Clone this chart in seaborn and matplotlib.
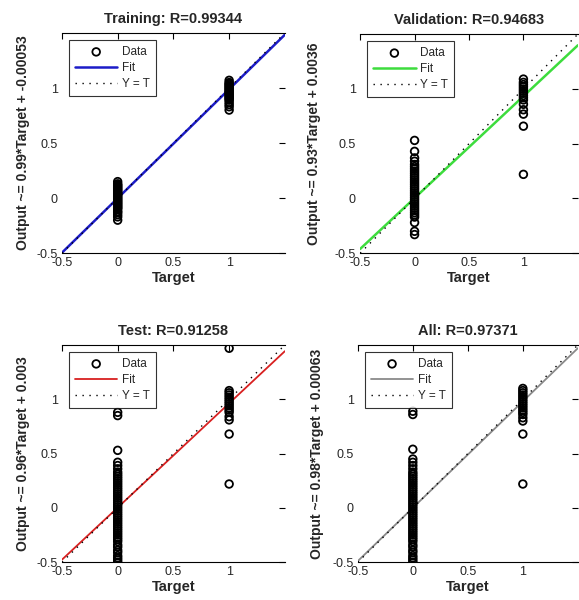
import numpy as np
import matplotlib
matplotlib.use("Agg")
import matplotlib.pyplot as plt
import seaborn as sns

# Regression plots for the trained network
panel_titles = ['Training: R=0.99344', 'Validation: R=0.94683',
                'Test: R=0.91258', 'All: R=0.97371']
fit_slopes = [0.99, 0.93, 0.96, 0.98]
fit_intercepts = [-0.00053, 0.0036, 0.003, 0.00053]
ylabel_texts = ['Output ~= 0.99*Target + -0.00053',
                'Output ~= 0.93*Target + 0.0036',
                'Output ~= 0.96*Target + 0.003',
                'Output ~= 0.98*Target + 0.00063']
fit_colors = ['#1c1cc8', '#3ddc3d', '#d82020', '#8a8a8a']
fit_widths = [1.8, 1.8, 1.3, 1.3]

# outputs for target 0 and target 1 in each data split
train_t0 = [-0.20, -0.17, -0.15, -0.13, -0.12, -0.10, -0.09, -0.08, -0.07, -0.06,
            -0.05, -0.04, -0.03, -0.02, -0.01, 0.00, 0.01, 0.02, 0.03, 0.04,
            0.05, 0.06, 0.07, 0.08, 0.09, 0.10, 0.11, 0.12, 0.13, 0.15]
train_t1 = [0.80, 0.83, 0.85, 0.87, 0.89, 0.90, 0.91, 0.92, 0.93, 0.94, 0.95,
            0.96, 0.97, 0.98, 0.99, 1.00, 1.01, 1.02, 1.03, 1.04, 1.05, 1.07]

val_t0 = [-0.33, -0.30, -0.22, -0.17, -0.15, -0.13, -0.11, -0.09, -0.07, -0.05,
          -0.03, -0.01, 0.01, 0.03, 0.05, 0.07, 0.09, 0.11, 0.13, 0.15, 0.17,
          0.19, 0.21, 0.23, 0.25, 0.27, 0.29, 0.31, 0.34, 0.37, 0.43, 0.53]
val_t1 = [0.22, 0.66, 0.77, 0.81, 0.86, 0.90, 0.92, 0.94, 0.96, 0.98, 1.00,
          1.02, 1.04, 1.06, 1.09]

test_t0 = [-0.50, -0.48, -0.46, -0.44, -0.41, -0.39, -0.36, -0.34, -0.31, -0.29,
           -0.27, -0.25, -0.23, -0.21, -0.19, -0.17, -0.15, -0.13, -0.11, -0.09,
           -0.07, -0.05, -0.03, -0.01, 0.01, 0.03, 0.05, 0.07, 0.09, 0.11, 0.13,
           0.15, 0.17, 0.19, 0.21, 0.23, 0.25, 0.27, 0.29, 0.31, 0.33, 0.36,
           0.39, 0.42, 0.53, 0.85, 0.88]
test_t1 = [0.22, 0.68, 0.81, 0.84, 0.88, 0.90, 0.92, 0.94, 0.96, 0.98, 1.00,
           1.02, 1.04, 1.06, 1.08, 1.47]

all_t0 = [-0.50, -0.48, -0.46, -0.44, -0.41, -0.39, -0.36, -0.34, -0.31, -0.29,
          -0.27, -0.25, -0.23, -0.21, -0.19, -0.17, -0.15, -0.13, -0.11, -0.09,
          -0.07, -0.05, -0.03, -0.01, 0.01, 0.03, 0.05, 0.07, 0.09, 0.11, 0.13,
          0.15, 0.17, 0.19, 0.21, 0.23, 0.25, 0.27, 0.29, 0.31, 0.33, 0.36,
          0.39, 0.42, 0.45, 0.54, 0.86, 0.89]
all_t1 = [0.22, 0.68, 0.80, 0.83, 0.86, 0.88, 0.90, 0.92, 0.94, 0.96, 0.98,
          1.00, 1.02, 1.04, 1.06, 1.08, 1.10]

outputs_t0 = [train_t0, val_t0, test_t0, all_t0]
outputs_t1 = [train_t1, val_t1, test_t1, all_t1]

axis_limits = [-0.5, 1.5]
tick_values = [-0.5, 0, 0.5, 1]
tick_labels = ['-0.5', '0', '0.5', '1']

sns.set_style('white')
plt.rcParams['font.family'] = ['Liberation Sans', 'DejaVu Sans']

fig = plt.figure(figsize=(5.79, 6.0), dpi=100)
positions = [[0.107, 0.578, 0.385, 0.367],
             [0.622, 0.578, 0.376, 0.365],
             [0.107, 0.063, 0.385, 0.362],
             [0.618, 0.063, 0.380, 0.362]]
ylabel_pads = [5, 10, 5, 6]

for i in range(4):
    ax = fig.add_axes(positions[i])
    targets = [0] * len(outputs_t0[i]) + [1] * len(outputs_t1[i])
    outputs = outputs_t0[i] + outputs_t1[i]

    sns.scatterplot(x=targets, y=outputs, ax=ax, marker='o', s=30,
                    facecolors='none', edgecolor='black', linewidth=1.3,
                    label='Data', zorder=3)

    line_x = np.array(axis_limits)
    sns.lineplot(x=line_x, y=fit_slopes[i] * line_x + fit_intercepts[i], ax=ax,
                 color=fit_colors[i], linewidth=fit_widths[i], label='Fit',
                 zorder=2)
    ax.plot(line_x, line_x, color='black', linestyle=(0, (1, 4)),
            linewidth=1.0, label='Y = T', zorder=4)

    ax.set_xlim(axis_limits)
    ax.set_ylim(axis_limits)
    ax.set_xticks(tick_values)
    ax.set_xticklabels(tick_labels)
    ax.set_yticks(tick_values)
    ax.set_yticklabels(tick_labels)
    ax.tick_params(direction='in', top=True, right=True, length=4,
                   labelsize=9, pad=3, color='black')
    for side, sp in ax.spines.items():
        sp.set_color('black')
        sp.set_linewidth(0.8)
        sp.set_visible(side in ('top', 'bottom'))

    ax.set_title(panel_titles[i], fontsize=10.5, fontweight='bold', pad=7)
    ax.set_xlabel('Target', fontsize=10.5, fontweight='bold', labelpad=1)
    ax.set_ylabel(ylabel_texts[i], fontsize=10, fontweight='bold',
                  labelpad=ylabel_pads[i])

    leg = ax.legend(loc='upper left', fontsize=8.5, handlelength=3.6,
                    frameon=True, fancybox=False, borderaxespad=0.6,
                    labelspacing=0.35, handletextpad=0.4, borderpad=0.5)
    leg.get_frame().set_edgecolor('black')
    leg.get_frame().set_linewidth(0.8)

fig.savefig('out.png', dpi=100)
